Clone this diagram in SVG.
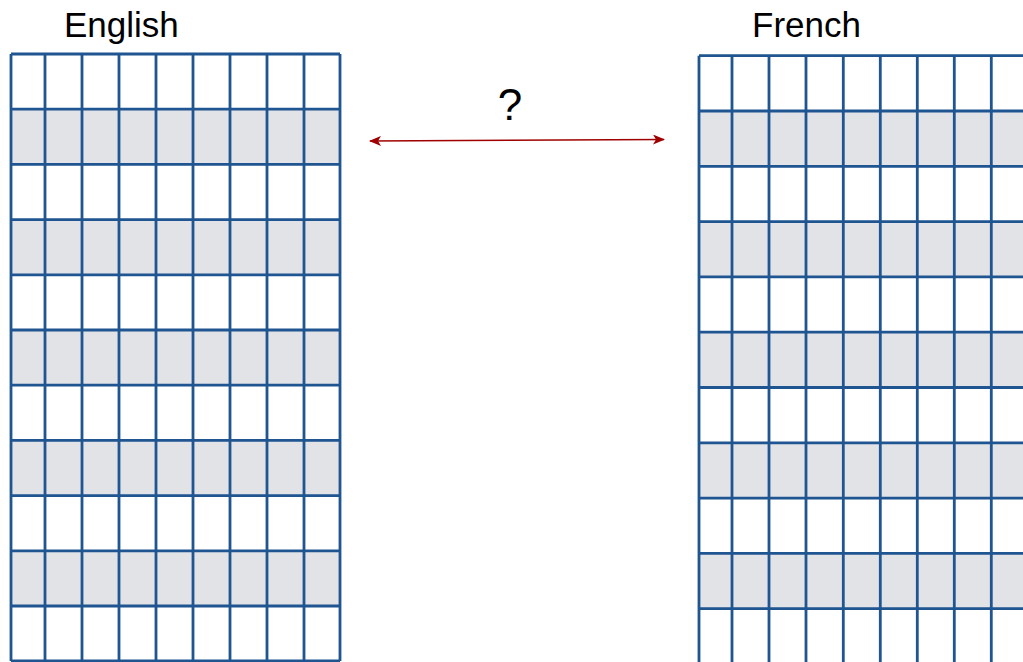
<svg xmlns="http://www.w3.org/2000/svg" width="1023" height="662" viewBox="0 0 1023 662">
<defs>
<style>
.lbl{font-family:"Liberation Sans",Arial,sans-serif;font-size:35px;fill:#000}
.q{font-family:"Liberation Sans",Arial,sans-serif;font-size:44px;fill:#000}
.grid line{stroke:#1f5591;stroke-width:2.8}
.shade{fill:#e2e3e7}
</style>
<marker id="ah" viewBox="0 0 12 10" refX="11" refY="5" markerWidth="12" markerHeight="10" markerUnits="userSpaceOnUse" orient="auto-start-reverse">
<path d="M0,0 L12,5 L0,10 L3,5 Z" fill="#a00000"/>
</marker>
</defs>
<rect width="1023" height="662" fill="#fff"/>
<g id="english">
<g class="shade">
<rect x="11" y="109.2" width="329" height="55.2"/>
<rect x="11" y="219.6" width="329" height="55.2"/>
<rect x="11" y="330" width="329" height="55.2"/>
<rect x="11" y="440.4" width="329" height="55.2"/>
<rect x="11" y="550.8" width="329" height="55.2"/>
</g>
<g class="grid">
<line x1="11" y1="54" x2="340" y2="54"/>
<line x1="11" y1="109.2" x2="340" y2="109.2"/>
<line x1="11" y1="164.4" x2="340" y2="164.4"/>
<line x1="11" y1="219.6" x2="340" y2="219.6"/>
<line x1="11" y1="274.8" x2="340" y2="274.8"/>
<line x1="11" y1="330" x2="340" y2="330"/>
<line x1="11" y1="385.2" x2="340" y2="385.2"/>
<line x1="11" y1="440.4" x2="340" y2="440.4"/>
<line x1="11" y1="495.6" x2="340" y2="495.6"/>
<line x1="11" y1="550.8" x2="340" y2="550.8"/>
<line x1="11" y1="606" x2="340" y2="606"/>
<line x1="11" y1="661" x2="340" y2="661"/>
<line x1="11" y1="54" x2="11" y2="661"/>
<line x1="45" y1="54" x2="45" y2="661"/>
<line x1="82" y1="54" x2="82" y2="661"/>
<line x1="119" y1="54" x2="119" y2="661"/>
<line x1="156" y1="54" x2="156" y2="661"/>
<line x1="193" y1="54" x2="193" y2="661"/>
<line x1="230" y1="54" x2="230" y2="661"/>
<line x1="267" y1="54" x2="267" y2="661"/>
<line x1="304" y1="54" x2="304" y2="661"/>
<line x1="340" y1="54" x2="340" y2="661"/>
</g>
<text class="lbl" x="64" y="37">English</text>
</g>
<g id="french">
<g class="shade">
<rect x="699" y="111" width="330" height="55.3"/>
<rect x="699" y="221.6" width="330" height="55.3"/>
<rect x="699" y="332.2" width="330" height="55.3"/>
<rect x="699" y="442.8" width="330" height="55.3"/>
<rect x="699" y="553.4" width="330" height="55.3"/>
</g>
<g class="grid">
<line x1="699" y1="55.7" x2="1030" y2="55.7"/>
<line x1="699" y1="111" x2="1030" y2="111"/>
<line x1="699" y1="166.3" x2="1030" y2="166.3"/>
<line x1="699" y1="221.6" x2="1030" y2="221.6"/>
<line x1="699" y1="276.9" x2="1030" y2="276.9"/>
<line x1="699" y1="332.2" x2="1030" y2="332.2"/>
<line x1="699" y1="387.5" x2="1030" y2="387.5"/>
<line x1="699" y1="442.8" x2="1030" y2="442.8"/>
<line x1="699" y1="498.1" x2="1030" y2="498.1"/>
<line x1="699" y1="553.4" x2="1030" y2="553.4"/>
<line x1="699" y1="608.7" x2="1030" y2="608.7"/>
<line x1="699" y1="55.7" x2="699" y2="670"/>
<line x1="732" y1="55.7" x2="732" y2="670"/>
<line x1="769" y1="55.7" x2="769" y2="670"/>
<line x1="806" y1="55.7" x2="806" y2="670"/>
<line x1="843.3" y1="55.7" x2="843.3" y2="670"/>
<line x1="880.3" y1="55.7" x2="880.3" y2="670"/>
<line x1="917.3" y1="55.7" x2="917.3" y2="670"/>
<line x1="954.3" y1="55.7" x2="954.3" y2="670"/>
<line x1="991.3" y1="55.7" x2="991.3" y2="670"/>
</g>
<text class="lbl" x="752" y="37">French</text>
</g>
<g id="connectors">
<line x1="370" y1="141" x2="664" y2="139.5" stroke="#a00000" stroke-width="1.6" marker-start="url(#ah)" marker-end="url(#ah)"/>
<text class="q" x="510" y="120" text-anchor="middle">?</text>
</g>
</svg>
